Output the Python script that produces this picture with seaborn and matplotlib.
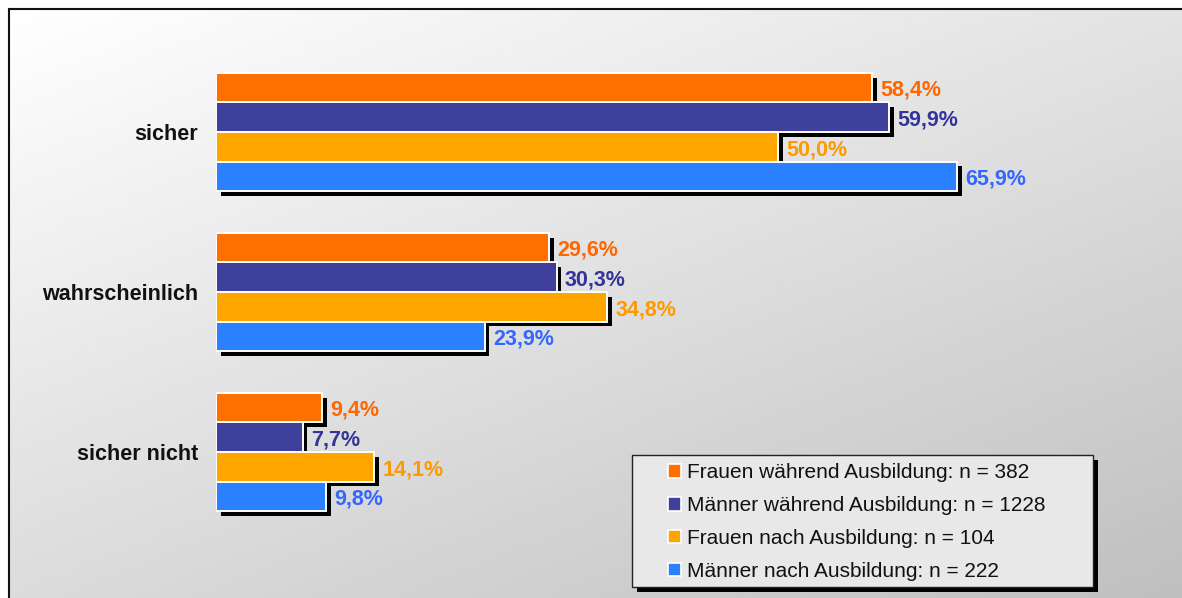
import numpy as np
import pandas as pd
import seaborn as sns
import matplotlib.pyplot as plt
from matplotlib.patches import Patch, Rectangle
import matplotlib.patheffects as pe

# answers and groups
categories = ['sicher', 'wahrscheinlich', 'sicher nicht']
groups = ['Frauen während Ausbildung: n = 382',
          'Männer während Ausbildung: n = 1228',
          'Frauen nach Ausbildung: n = 104',
          'Männer nach Ausbildung: n = 222']
frauen_waehrend = [58.4, 29.6, 9.4]
maenner_waehrend = [59.9, 30.3, 7.7]
frauen_nach = [50.0, 34.8, 14.1]
maenner_nach = [65.9, 23.9, 9.8]

bar_colors = ['#FF7000', '#3F3F9C', '#FFA500', '#2A80FF']
label_colors = ['#FF6600', '#333399', '#FF9900', '#3366FF']

plt.rcParams['font.family'] = ['Liberation Sans', 'DejaVu Sans']

df = pd.DataFrame({
    'antwort': categories * 4,
    'gruppe': [g for g in groups for _ in categories],
    'anteil': frauen_waehrend + maenner_waehrend + frauen_nach + maenner_nach,
})

W, H = 1182, 598
fig = plt.figure(figsize=(W / 100, H / 100), dpi=100)

# gradient background with black border top/left
bg = fig.add_axes([9 / W, 0, 1 - 9 / W, 1 - 9 / H], zorder=0)
xx, yy = np.meshgrid(np.linspace(0, 1, 300), np.linspace(0, 1, 200))
grad = 1.0 - 0.11 * xx - 0.14 * yy
bg.imshow(grad, cmap='gray', vmin=0, vmax=1, aspect='auto', extent=(0, 1, 1, 0))
bg.set_xticks([])
bg.set_yticks([])
for s in ['right', 'bottom']:
    bg.spines[s].set_visible(False)
for s in ['top', 'left']:
    bg.spines[s].set_linewidth(1.5)
    bg.spines[s].set_color('#111111')

# main chart
px_unit = 11.24
x0 = 216
ax = fig.add_axes([x0 / W, 2 / H, (85 * px_unit) / W, 560 / H], zorder=1)
ax.patch.set_alpha(0)
sns.barplot(data=df, y='antwort', x='anteil', hue='gruppe', hue_order=groups,
            order=categories, palette=bar_colors, orient='h', width=0.74,
            saturation=1, edgecolor='white', linewidth=1.4, legend=False, ax=ax)

shadow = [pe.SimplePatchShadow(offset=(3.5, -3.5), shadow_rgbFace='black', alpha=1),
          pe.Normal()]
for cont, col in zip(ax.containers, label_colors):
    for bar in cont:
        bar.set_path_effects(shadow)
    labels = [f'{b.get_width():.1f}%'.replace('.', ',') for b in cont]
    texts = ax.bar_label(cont, labels=labels, padding=6, color=col,
                         fontsize=15.5, fontweight='bold')
    for t in texts:
        t.xyann = (6, -2)

ax.set_xlim(0, 85)
ax.set_ylim(2.9, -0.6)
ax.set_xlabel('')
ax.set_ylabel('')
ax.set_xticks([])
for s in ax.spines.values():
    s.set_visible(False)
ax.tick_params(axis='y', length=0, pad=13)
for lbl in ax.get_yticklabels():
    lbl.set_fontweight('bold')
    lbl.set_fontsize(15.5)
    lbl.set_color('#111111')

# legend box with shadow
box = Rectangle((632 / W, (H - 587) / H), (1093 - 632) / W, (587 - 455) / H,
                transform=fig.transFigure, facecolor='#e8e8e8',
                edgecolor='#222222', linewidth=1.0, zorder=2)
box.set_path_effects(shadow)
fig.add_artist(box)

handles = [Patch(facecolor=c, edgecolor='white', linewidth=1.2) for c in bar_colors]
leg = fig.legend(handles, groups, loc='center left',
                 bbox_to_anchor=(668 / W, (H - 522) / H), fontsize=15,
                 frameon=False, handlelength=0.62, handleheight=0.62,
                 handletextpad=0.3, labelspacing=0.66, borderpad=0,
                 borderaxespad=0)
leg.set_zorder(3)
for t in leg.get_texts():
    t.set_color('#111111')

fig.savefig('out.png', dpi=100)
